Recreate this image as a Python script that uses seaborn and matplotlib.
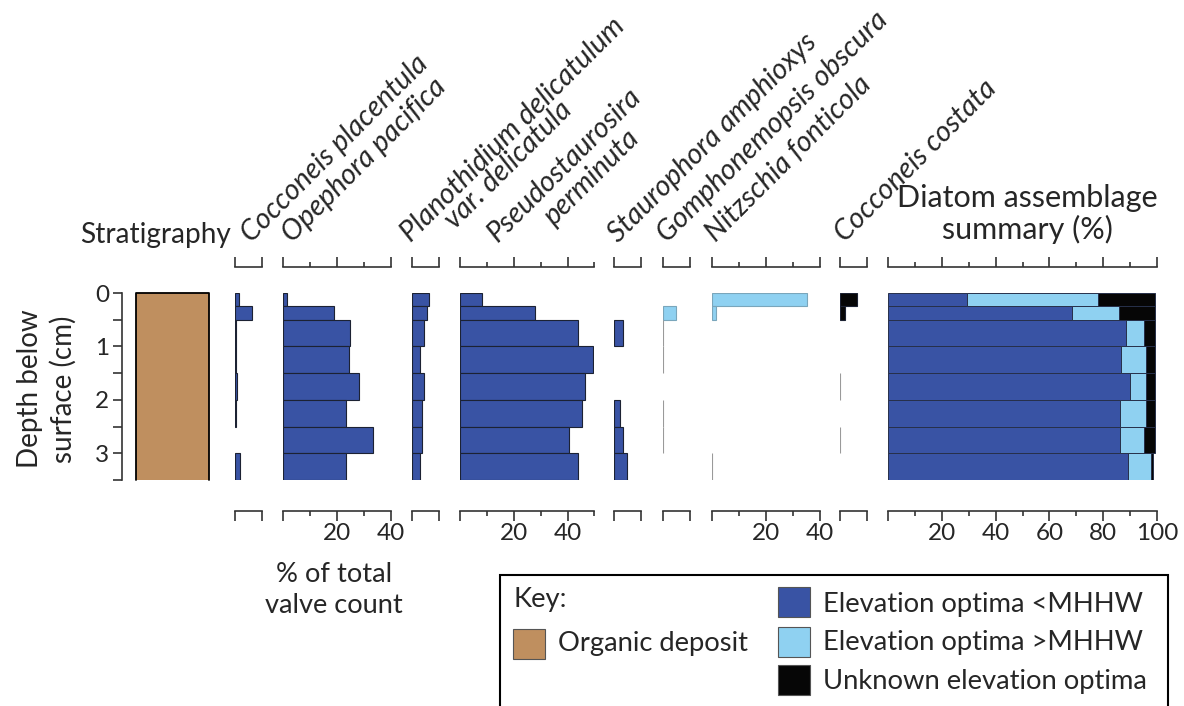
import matplotlib
matplotlib.use("agg")
import matplotlib.pyplot as plt  # noqa
from matplotlib.patches import Rectangle
from matplotlib.ticker import MultipleLocator
import pandas as pd
import seaborn as sns

sns.set_style("ticks")
plt.rcParams["font.family"] = ["Lato", "DejaVu Sans"]

W, H = 1184, 706
PX = 2.69  # pixels per percent on every panel

# sample intervals (cm below surface)
depth_edges = [0, 0.25, 0.5, 1.0, 1.5, 2.0, 2.5, 3.0, 3.5]
depth_mid = [(a + b) / 2 for a, b in zip(depth_edges[:-1], depth_edges[1:])]

# % of total valve count, top sample first
coc_placentula = [1.5, 6.4, 0.3, 0.3, 0.9, 0.3, 0.0, 2.0]
opephora = [1.6, 18.8, 25.0, 24.6, 28.4, 23.5, 33.6, 23.5]
planothidium = [6.3, 5.7, 4.3, 3.1, 4.3, 3.8, 3.6, 3.1]
pseudostaurosira = [8.3, 28.0, 44.0, 49.3, 46.5, 45.5, 40.4, 44.0]
staurophora = [0.0, 0.0, 3.5, 0.0, 0.0, 2.4, 3.3, 5.0]
gomphonemopsis = [0.0, 4.9, 0.1, 0.1, 0.0, 0.1, 0.1, 0.0]
nitzschia = [35.3, 1.5, 0.0, 0.0, 0.0, 0.0, 0.0, 0.1]
coc_costata = [6.4, 1.7, 0.0, 0.0, 0.1, 0.0, 0.1, 0.0]

# assemblage summary (%)
below_mhhw = [29.5, 68.3, 88.6, 86.8, 89.8, 86.1, 86.1, 89.2]
above_mhhw = [48.5, 17.5, 6.4, 9.0, 6.0, 9.7, 8.9, 8.7]
unknown_opt = [21.3, 13.5, 4.3, 3.5, 3.5, 3.5, 4.3, 0.6]

DARK = "#3953a4"
LIGHT = "#8fd1f1"
BLACK = "#060606"
BROWN = "#bf8f5f"
SPINE = "#333333"
FS = 20.6

# name lines, values, x max, colour
taxa = [
    (["Cocconeis placentula"], coc_placentula, 10, DARK),
    (["Opephora pacifica"], opephora, 40, DARK),
    (["Planothidium delicatulum", "var. delicatula"], planothidium, 10, DARK),
    (["Pseudostaurosira", "perminuta"], pseudostaurosira, 50, DARK),
    (["Staurophora amphioxys"], staurophora, 10, DARK),
    (["Gomphonemopsis obscura"], gomphonemopsis, 10, LIGHT),
    (["Nitzschia fonticola"], nitzschia, 40, LIGHT),
    (["Cocconeis costata"], coc_costata, 10, BLACK),
]
# layout in pixels: panel left edge, label anchors
panel_left = [235, 283, 412, 460, 614, 663, 712, 840]
label_anchor = [
    [(251, 243)], [(292, 243)], [(411, 243), (455, 230)],
    [(498, 243), (554, 226)], [(618, 243)], [(667, 243)],
    [(716, 243)], [(845, 243)],
]

TOP_Y, BOT_Y = 293, 480


def fx(x):
    return x / W


def fy(y):
    return 1 - y / H


def add_panel(fig, left_px, xmax):
    ax = fig.add_axes([fx(left_px), fy(BOT_Y), xmax * PX / W, (BOT_Y - TOP_Y) / H])
    ax.patch.set_visible(False)
    return ax


def style_panel(ax, xmax):
    ax.set_xlim(0, xmax)
    ax.set_ylim(3.5, 0)
    ax.set(xlabel="", ylabel="")
    ax.spines["left"].set_visible(False)
    ax.spines["right"].set_visible(False)
    ax.spines["top"].set_position(("outward", 19))
    ax.spines["bottom"].set_position(("outward", 22))
    for s in ["top", "bottom"]:
        ax.spines[s].set_bounds(0, xmax)
        ax.spines[s].set_color(SPINE)
        ax.spines[s].set_linewidth(1.2)
    ax.set_yticks([])
    ax.xaxis.set_ticks_position("both")
    if xmax == 10:
        ax.set_xticks([0, 10])
        ax.set_xticklabels(["", ""])
    else:
        ticks = list(range(0, xmax + 1, 20))
        ax.set_xticks(ticks)
        ax.set_xticklabels(["" if t == 0 else str(t) for t in ticks])
        ax.xaxis.set_minor_locator(MultipleLocator(10))
    ax.tick_params(axis="x", which="major", length=7, width=1.2, color=SPINE,
                   direction="out", labelsize=17.5, pad=2, top=True, labeltop=False)
    ax.tick_params(axis="x", which="minor", length=3.5, width=1.2, color=SPINE,
                   direction="out", top=True)


fig = plt.figure(figsize=(W / 100, H / 100), dpi=100)

# stratigraphy column + depth axis
ax_s = fig.add_axes([fx(136), fy(BOT_Y), 73 / W, (BOT_Y - TOP_Y) / H])
ax_s.patch.set_visible(False)
ax_s.barh(depth_mid, [1] * len(depth_mid),
          height=[b - a for a, b in zip(depth_edges[:-1], depth_edges[1:])],
          color=BROWN, edgecolor="none", clip_on=False)
ax_s.plot([0, 0, 1, 1], [3.5, 0, 0, 3.5], color="black", lw=1.3, clip_on=False)
ax_s.set_xlim(0, 1)
ax_s.set_ylim(3.5, 0)
for s in ["top", "bottom", "right"]:
    ax_s.spines[s].set_visible(False)
ax_s.spines["left"].set_position(("outward", 10))
ax_s.spines["left"].set_bounds(0, 3.5)
ax_s.spines["left"].set_color(SPINE)
ax_s.spines["left"].set_linewidth(1.2)
ax_s.set_xticks([])
ax_s.set_yticks([0, 1, 2, 3])
ax_s.yaxis.set_minor_locator(MultipleLocator(0.5))
ax_s.tick_params(axis="y", which="both", length=6.5, width=1.2, color=SPINE,
                 labelsize=17.5, pad=3)

# species panels
for (names, vals, xmax, col), left, anchors in zip(taxa, panel_left, label_anchor):
    ax = add_panel(fig, left, xmax)
    edge = "#7aa6bb" if col == LIGHT else "#1c2233"
    keep = [i for i, v in enumerate(vals) if v > 0]
    sns.histplot(y=[depth_mid[i] for i in keep], weights=[vals[i] for i in keep],
                 bins=depth_edges, ax=ax, color=col,
                 edgecolor=edge, linewidth=0.8, alpha=1)
    for p in ax.patches:
        w = p.get_width()
        if w == 0:
            # empty bins leave no edge line at zero
            p.set_visible(False)
        elif w < 0.2 and col != DARK:
            # trace values show as a faint grey line
            p.set_edgecolor("#9a9a9a")
    style_panel(ax, xmax)
    for name, (x, y) in zip(names, anchors):
        fig.text(fx(x), fy(y), name, rotation=45, rotation_mode="anchor",
                 ha="left", va="baseline", style="italic", fontsize=FS)

# summary panel
summary = pd.DataFrame({
    "depth": depth_mid * 3,
    "pct": below_mhhw + above_mhhw + unknown_opt,
    "group": ["below"] * 8 + ["above"] * 8 + ["unknown"] * 8,
})
ax_sum = add_panel(fig, 888, 100)
sns.histplot(data=summary, y="depth", weights="pct", hue="group",
             hue_order=["unknown", "above", "below"],
             palette={"below": DARK, "above": LIGHT, "unknown": BLACK},
             multiple="stack", bins=depth_edges, ax=ax_sum, legend=False,
             edgecolor="#27304a", linewidth=0.7, alpha=1)
style_panel(ax_sum, 100)

# texts
fig.text(fx(80), fy(243), "Stratigraphy", ha="left", va="baseline", fontsize=20.2)
fig.text(fx(1027), fy(207), "Diatom assemblage", ha="center", va="baseline", fontsize=22)
fig.text(fx(1027), fy(239), "summary (%)", ha="center", va="baseline", fontsize=22)
fig.text(fx(334), fy(582), "% of total", ha="center", va="baseline", fontsize=19.6)
fig.text(fx(334), fy(613), "valve count", ha="center", va="baseline", fontsize=19.6)
fig.text(fx(30), fy(389), "Depth below", rotation=90, ha="center", va="center", fontsize=20)
fig.text(fx(63), fy(389), "surface (cm)", rotation=90, ha="center", va="center", fontsize=20)

# key
fig.patches.append(Rectangle((fx(500), fy(720)), (1168 - 500) / W, (720 - 575) / H,
                             transform=fig.transFigure, fill=False, ec="black", lw=1.5))
fig.text(fx(513), fy(607), "Key:", ha="left", va="baseline", fontsize=19.7)
key_items = [
    (BROWN, (513, 629), "Organic deposit", 651),
    (DARK, (778, 587), "Elevation optima <MHHW", 612),
    (LIGHT, (778, 627), "Elevation optima >MHHW", 650),
    (BLACK, (778, 665), "Unknown elevation optima", 689),
]
for col, (x, y), label, base in key_items:
    fig.patches.append(Rectangle((fx(x), fy(y + 30)), 32 / W, 30 / H,
                                 transform=fig.transFigure, fc=col, ec="#555555", lw=0.8))
    fig.text(fx(x + 45), fy(base), label, ha="left", va="baseline", fontsize=19.7)

fig.savefig("out.png", dpi=100)
